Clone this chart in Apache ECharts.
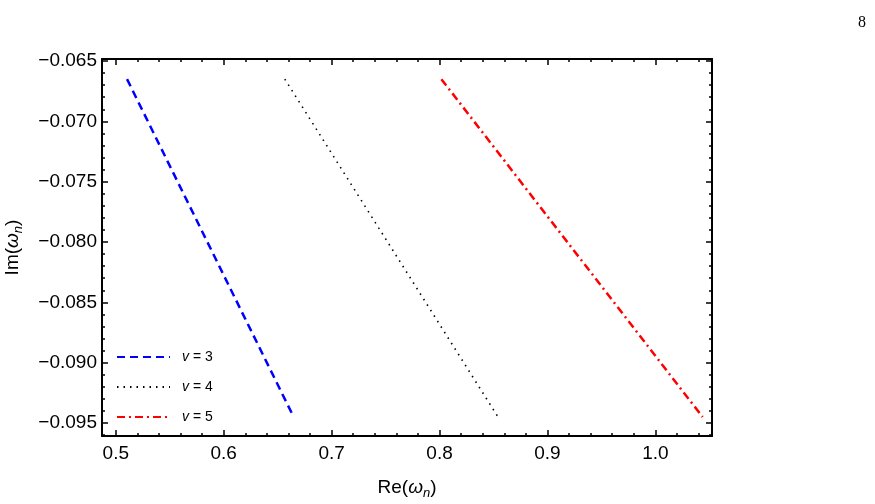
<!DOCTYPE html>
<html><head><meta charset="utf-8">
<script src="https://cdn.jsdelivr.net/npm/echarts@6/dist/echarts.min.js"></script>
<style>html,body{margin:0;padding:0;background:#fff}#c{width:875px;height:504px}</style>
</head><body><div id="c"></div>
<script>
// ---- data ----
const seriesNames = ['v = 3', 'v = 4', 'v = 5'];
const imValues = [-0.0665, -0.0735, -0.0805, -0.0875, -0.0945];
const reV3 = [0.5104, 0.5490, 0.5876, 0.6262, 0.6648];
const reV4 = [0.6566, 0.7060, 0.7554, 0.8048, 0.8542];
const reV5 = [0.8017, 0.8622, 0.9227, 0.9833, 1.0438];
const xTicks = [0.5, 0.6, 0.7, 0.8, 0.9, 1.0];
const yTicks = [-0.095, -0.090, -0.085, -0.080, -0.075, -0.070, -0.065];
const xMinorStep = 0.02, yMinorStep = 0.001;
// ---- axis ranges ----
const xMin = 0.4872, xMax = 1.0525, yMin = -0.09608, yMax = -0.06483;

function minors(major, step, lo, hi) {
  const out = [];
  const start = Math.ceil(lo / step);
  for (let k = start; k * step <= hi; k++) {
    const v = +(k * step).toFixed(6);
    if (v < lo || v > hi) continue;
    if (major.some(m => Math.abs(m - v) < step / 10)) continue;
    out.push(v);
  }
  return out;
}
const xMinor = minors(xTicks, xMinorStep, xMin, xMax);
const yMinor = minors(yTicks, yMinorStep, yMin, yMax);

const fmtY = v => (v < 0 ? '\u2212' : '') + Math.abs(v).toFixed(3);
const fmtX = v => v.toFixed(1);
const font = 'Liberation Sans, Arial, sans-serif';
const nameRich = {
  a: {fontSize: 19, fontFamily: font, color: '#000'},
  w: {fontSize: 19, fontFamily: font, fontStyle: 'italic', color: '#000'},
  s: {fontSize: 13, fontFamily: font, fontStyle: 'italic', color: '#000', padding: [11, 0, 0, 0]}
};

function xAxis(pos, ticks, len, labels, line, name) {
  const a = {
    type: 'value', position: pos, min: xMin, max: xMax, gridIndex: 0,
    splitLine: {show: false},
    axisLine: {show: line, onZero: false, lineStyle: {color: '#000', width: 2}},
    axisTick: {show: true, inside: true, length: len, customValues: ticks, lineStyle: {color: '#000', width: 1.5}},
    axisLabel: labels ? {show: true, customValues: ticks, formatter: fmtX, color: '#000', fontSize: 19, fontFamily: font, margin: 8} : {show: false}
  };
  if (name) {
    a.name = '{a|Re(}{w|\u03c9}{s|n}{a|)}';
    a.nameLocation = 'middle';
    a.nameGap = 40;
    a.nameTextStyle = {rich: nameRich};
  }
  return a;
}
function yAxis(pos, ticks, len, labels, line, name) {
  const a = {
    type: 'value', position: pos, min: yMin, max: yMax, gridIndex: 0,
    splitLine: {show: false},
    axisLine: {show: line, onZero: false, lineStyle: {color: '#000', width: 2}},
    axisTick: {show: true, inside: true, length: len, customValues: ticks, lineStyle: {color: '#000', width: 1.5}},
    axisLabel: labels ? {show: true, customValues: ticks, formatter: fmtY, color: '#000', fontSize: 19, fontFamily: font, margin: 5} : {show: false}
  };
  if (name) {
    a.name = '{a|Im(}{w|\u03c9}{s|n}{a|)}';
    a.nameLocation = 'middle';
    a.nameGap = 77;
    a.nameTextStyle = {rich: nameRich};
  }
  return a;
}

const colors = ['#0000ff', '#000000', '#ff0000'];
const dashes = [[8, 5], [1.5, 5], [8, 4, 2, 4]];
const widths = [2.5, 1.6, 2.5];
const reData = [reV3, reV4, reV5];

const chart = echarts.init(document.getElementById('c'), null, {renderer: 'canvas'});
chart.setOption({
  animation: false,
  backgroundColor: '#fff',
  grid: {left: 102, right: 163, top: 59, bottom: 68, containLabel: false, outerBoundsMode: 'none'},
  xAxis: [
    xAxis('bottom', xTicks, 6, true, true, true),
    xAxis('bottom', xMinor, 3, false, false, false),
    xAxis('top', xTicks, 6, false, true, false),
    xAxis('top', xMinor, 3, false, false, false)
  ],
  yAxis: [
    yAxis('left', yTicks, 6, true, true, true),
    yAxis('left', yMinor, 3, false, false, false),
    yAxis('right', yTicks, 6, false, true, false),
    yAxis('right', yMinor, 3, false, false, false)
  ],
  legend: {
    orient: 'vertical', left: 111, top: 345, itemWidth: 53, itemHeight: 14, itemGap: 16,
    data: seriesNames,
    itemStyle: {opacity: 0},
    formatter: n => '{i|' + n.charAt(0) + '}{t|' + n.slice(1) + '}',
    textStyle: {rich: {
      i: {fontSize: 14, fontFamily: font, fontStyle: 'italic', color: '#000', padding: [0, 0, 0, 7]},
      t: {fontSize: 14, fontFamily: font, color: '#000'}
    }}
  },
  graphic: [{type: 'text', left: 858, top: 15, style: {text: '8', fontSize: 16, fontFamily: 'Liberation Serif, DejaVu Serif, serif', fill: '#000'}}],
  series: seriesNames.map((nm, i) => ({
    name: nm, type: 'line', xAxisIndex: 0, yAxisIndex: 0,
    symbol: 'none', showSymbol: false,
    data: reData[i].map((x, j) => [x, imValues[j]]),
    lineStyle: {color: colors[i], width: widths[i], type: dashes[i]},
    itemStyle: {color: colors[i]}
  }))
});
</script>
</body></html>
